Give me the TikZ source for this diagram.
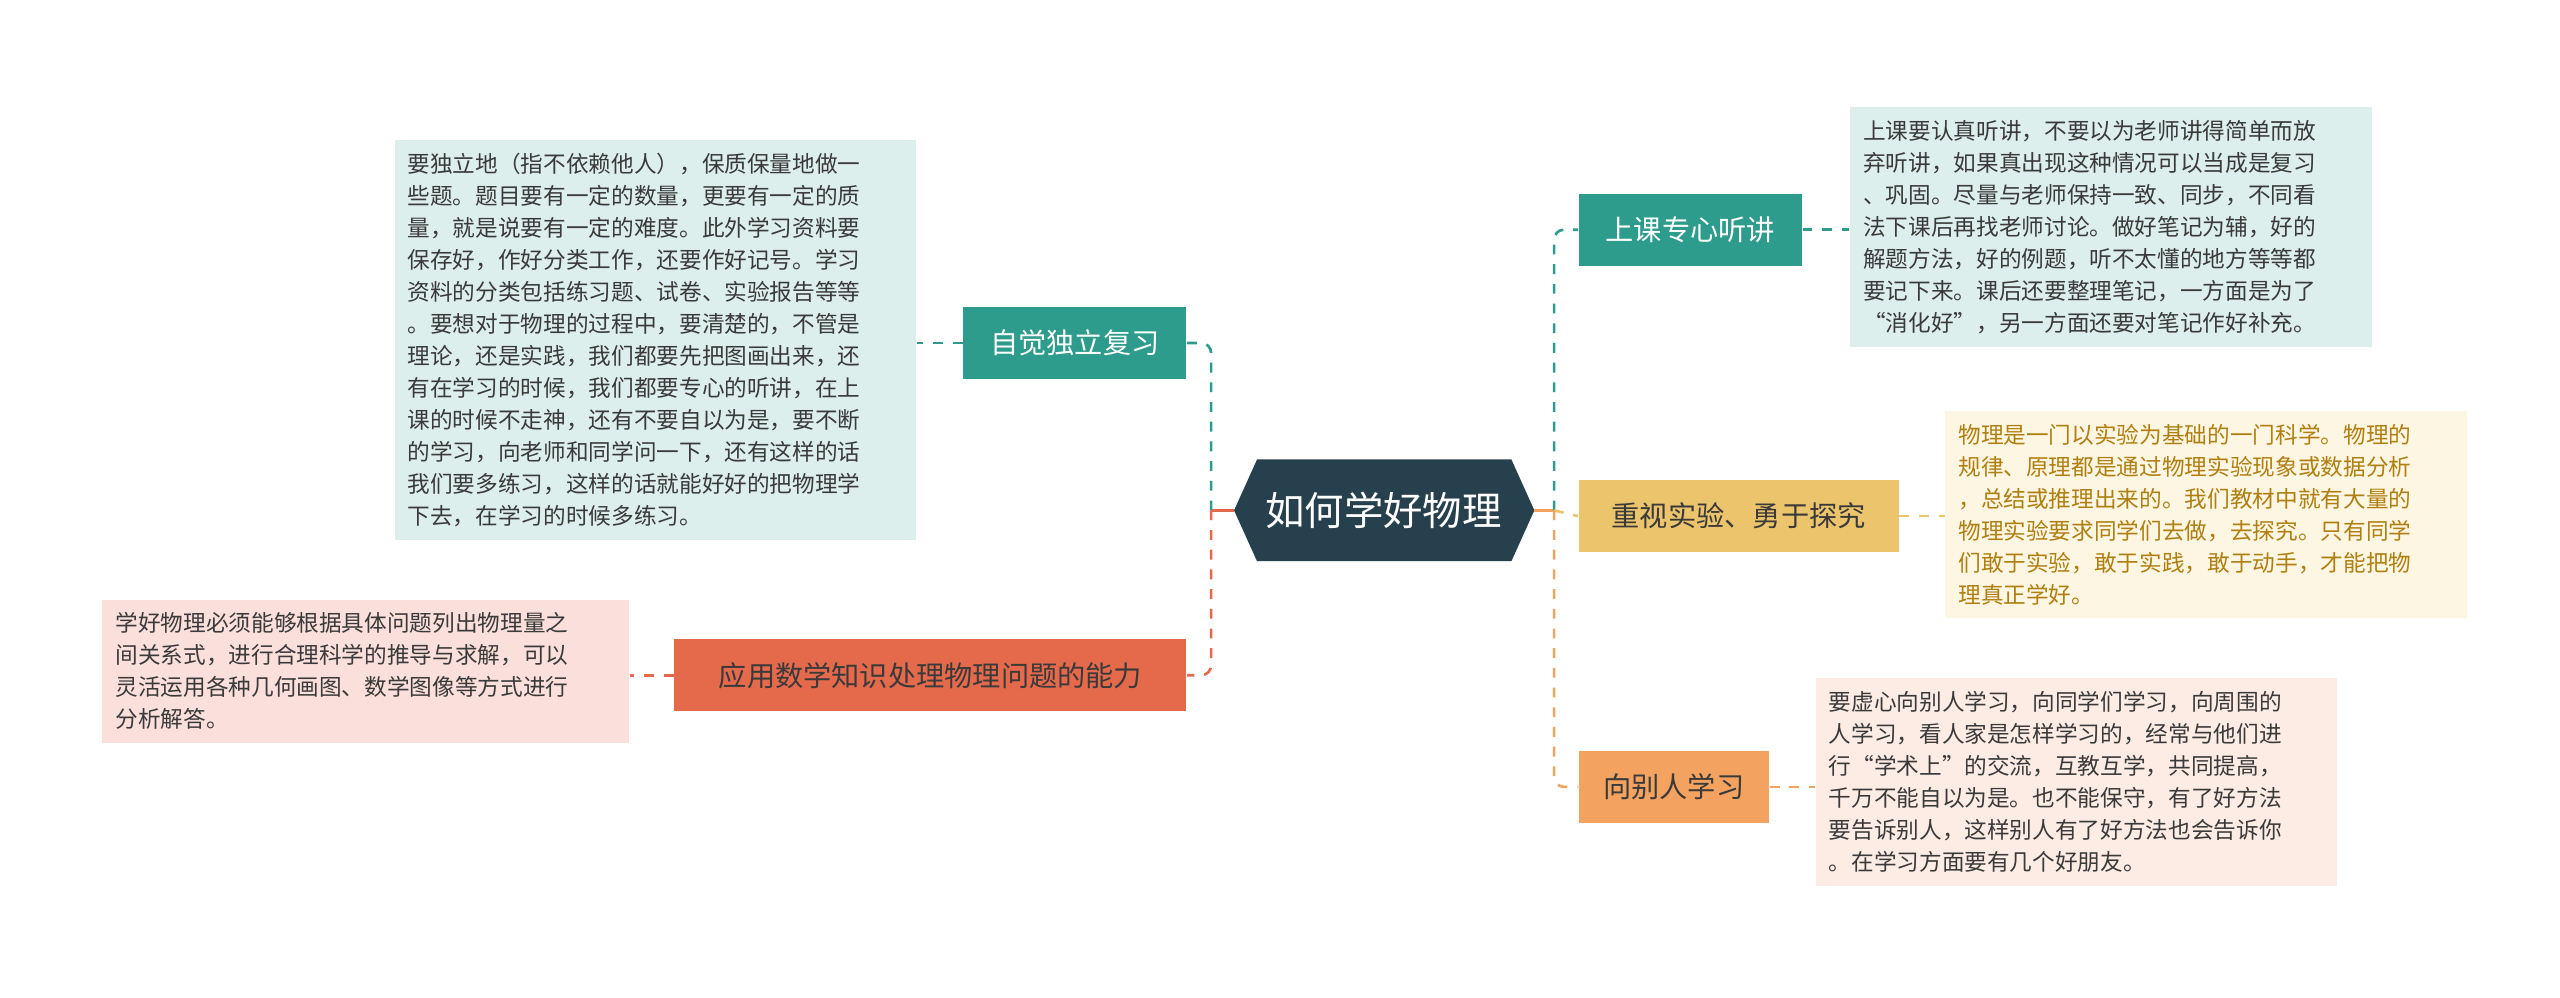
\documentclass[tikz,border=0pt]{standalone}
\usepackage{fontspec}
\setmainfont{Noto Sans CJK SC}
\XeTeXlinebreaklocale "zh"
\XeTeXlinebreakskip=0pt plus 1pt
\begin{document}
\begin{tikzpicture}[x=0.5pt,y=-0.5pt,
 br/.style={minimum height=22pt,inner xsep=5pt,font=\fontsize{8.6}{11}\selectfont,anchor=center},
 txt/.style={align=left,anchor=north west,inner sep=4pt,font=\fontsize{6.9}{9.75}\selectfont,text width=#1},
 cn/.style={dashed,line width=0.8pt,rounded corners=3pt}]
\definecolor{teal}{HTML}{2E9C8C}\definecolor{tealbg}{HTML}{DCEFEC}
\definecolor{yel}{HTML}{EBC46B}\definecolor{yelbg}{HTML}{FDF6E3}\definecolor{yeltx}{HTML}{B07F10}
\definecolor{org}{HTML}{F3A25F}\definecolor{orgbg}{HTML}{FDECE3}
\definecolor{red}{HTML}{E5694B}\definecolor{redbg}{HTML}{FADFDA}
\definecolor{dark}{HTML}{27404D}\definecolor{tx}{HTML}{3A3A3A}
\useasboundingbox (0,0) rectangle (1560,608);
\fill[white] (0,0) rectangle (1560,608);
% center
\fill[dark] (752,311)--(766,280)--(921,280)--(935,311)--(921,342)--(766,342)--cycle;
\node[font=\fontsize{12}{14}\selectfont,text=white] (c) at (843,311) {如何学好物理};
\coordinate (cr) at (935,311); \coordinate (cl) at (752,311);
% branches
\node[br,fill=teal,text=white,minimum width=68pt] (b1) at (1030,140) {上课专心听讲};
\node[br,fill=yel,text=tx,minimum width=97.5pt] (b2) at (1059.5,314.5) {重视实验、勇于探究};
\node[br,fill=org,text=tx,minimum width=58pt] (b3) at (1020,479.5) {向别人学习};
\node[br,fill=teal,text=white,minimum width=68pt] (b4) at (655,209) {自觉独立复习};
\node[br,fill=red,text=tx,minimum width=156pt] (b5) at (567,411.5) {应用数学知识处理物理问题的能力};
% texts
\node[txt=151pt,fill=tealbg,text=tx] (t1) at (1127,65) {上课要认真听讲，不要以为老师讲得简单而放\\弃听讲，如果真出现这种情况可以当成是复习\\、巩固。尽量与老师保持一致、同步，不同看\\法下课后再找老师讨论。做好笔记为辅，好的\\解题方法，好的例题，听不太懂的地方等等都\\要记下来。课后还要整理笔记，一方面是为了\\“消化好”，另一方面还要对笔记作好补充。};
\node[txt=151pt,fill=yelbg,text=yeltx] (t2) at (1185,250) {物理是一门以实验为基础的一门科学。物理的\\规律、原理都是通过物理实验现象或数据分析\\，总结或推理出来的。我们教材中就有大量的\\物理实验要求同学们去做，去探究。只有同学\\们敢于实验，敢于实践，敢于动手，才能把物\\理真正学好。};
\node[txt=151pt,fill=orgbg,text=tx] (t3) at (1106,413) {要虚心向别人学习，向同学们学习，向周围的\\人学习，看人家是怎样学习的，经常与他们进\\行“学术上”的交流，互教互学，共同提高，\\千万不能自以为是。也不能保守，有了好方法\\要告诉别人，这样别人有了好方法也会告诉你\\。在学习方面要有几个好朋友。};
\node[txt=151pt,fill=tealbg,text=tx] (t4) at (240,85) {要独立地（指不依赖他人），保质保量地做一\\些题。题目要有一定的数量，更要有一定的质\\量，就是说要有一定的难度。此外学习资料要\\保存好，作好分类工作，还要作好记号。学习\\资料的分类包括练习题、试卷、实验报告等等\\。要想对于物理的过程中，要清楚的，不管是\\理论，还是实践，我们都要先把图画出来，还\\有在学习的时候，我们都要专心的听讲，在上\\课的时候不走神，还有不要自以为是，要不断\\的学习，向老师和同学问一下，还有这样的话\\我们要多练习，这样的话就能好好的把物理学\\下去，在学习的时候多练习。};
\node[txt=152.5pt,fill=redbg,text=tx] (t5) at (62,365) {学好物理必须能够根据具体问题列出物理量之\\间关系式，进行合理科学的推导与求解，可以\\灵活运用各种几何画图、数学图像等方式进行\\分析解答。};
% connectors
\draw[org,line width=0.8pt] (cr)--(947,311);
\draw[red,line width=0.8pt] (cl)--(738,311);
\draw[cn,teal] (947,311)|-(b1.west);
\draw[cn,yel] (947,311)--(b2.west);
\draw[cn,org] (947,311)|-(b3.west);
\draw[cn,teal] (738,311)|-(b4.east);
\draw[cn,red] (738,311)|-(b5.east);
\draw[cn,teal] (b1.east)--(t1.west|-b1.east);
\draw[cn,yel] (b2.east)--(t2.west|-b2.east);
\draw[cn,org] (b3.east)--(t3.west|-b3.east);
\draw[cn,teal] (b4.west)--(t4.east|-b4.west);
\draw[cn,red] (b5.west)--(t5.east|-b5.west);
\end{tikzpicture}
\end{document}
